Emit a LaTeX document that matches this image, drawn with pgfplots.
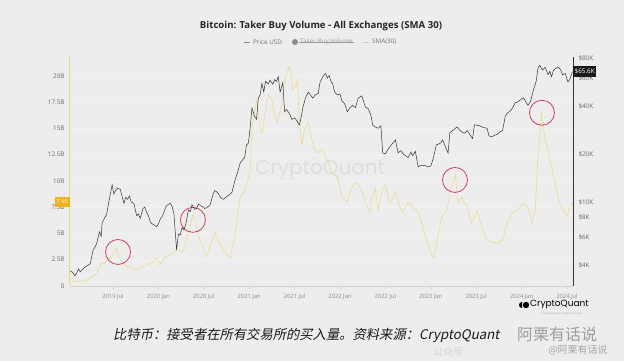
\documentclass[border=0pt]{standalone}
\usepackage{fontspec}
\usepackage{pgfplots}
\pgfplotsset{compat=1.18}
\setmainfont{Open Sans}
\newfontfamily\cjk[FakeSlant=0.2]{Noto Sans CJK SC}
\newfontfamily\cjkplain{Noto Sans CJK SC}
\newfontfamily\poppins{Poppins}
\definecolor{bg}{HTML}{EDEDED}
\definecolor{smay}{HTML}{EADB93}
\definecolor{smaaxis}{HTML}{E8D680}
\definecolor{pricec}{HTML}{333333}
\definecolor{circ}{HTML}{D2405A}
\definecolor{amber}{HTML}{EDB21C}
\definecolor{ticktext}{HTML}{6A6A6A}

\pgfplotstableread{
x y
2019.03 0.7
2019.06 0.5
2019.09 0.4
2019.13 0.45
2019.17 0.5
2019.21 0.6
2019.25 0.75
2019.29 1.0
2019.32 1.2
2019.35 1.7
2019.37 2.2
2019.40 2.1
2019.44 2.5
2019.47 2.7
2019.50 3.1
2019.52 3.3
2019.54 3.6
2019.56 3.0
2019.58 2.5
2019.61 2.3
2019.63 2.0
2019.67 1.8
2019.70 1.7
2019.73 1.6
2019.76 1.5
2019.80 1.7
2019.83 1.8
2019.87 2.0
2019.91 2.1
2019.93 2.2
2019.97 2.6
2019.99 2.7
2020.01 2.0
2020.04 2.3
2020.07 2.7
2020.11 2.9
2020.14 3.0
2020.17 3.2
2020.20 3.4
2020.23 3.4
2020.26 3.2
2020.29 3.6
2020.31 4.5
2020.34 5.2
2020.36 6.0
2020.38 6.8
2020.40 6.4
2020.41 6.1
2020.43 5.0
2020.47 4.2
2020.51 3.2
2020.53 2.8
2020.56 3.6
2020.60 4.6
2020.63 5.1
2020.67 4.1
2020.71 3.6
2020.75 3.0
2020.79 2.7
2020.84 4.7
2020.87 6.5
2020.90 8.5
2020.95 9.1
2020.98 10.0
2021.01 11.0
2021.03 15.0
2021.05 16.1
2021.08 17.7
2021.12 15.1
2021.14 14.6
2021.17 16.1
2021.21 18.2
2021.25 17.7
2021.28 16.1
2021.31 15.6
2021.36 17.4
2021.39 19.6
2021.44 20.9
2021.46 20.3
2021.48 18.7
2021.51 19.0
2021.53 19.6
2021.55 16.1
2021.58 13.4
2021.61 14.9
2021.65 15.6
2021.69 13.9
2021.72 13.0
2021.76 12.7
2021.81 13.0
2021.86 12.0
2021.91 10.8
2021.97 10.4
2022.02 8.5
2022.08 8.0
2022.13 9.4
2022.19 9.9
2022.24 9.1
2022.28 7.9
2022.33 7.0
2022.35 8.4
2022.39 9.3
2022.42 7.2
2022.47 9.3
2022.50 9.6
2022.55 7.9
2022.61 8.9
2022.66 7.5
2022.69 7.0
2022.75 8.0
2022.80 7.5
2022.86 7.0
2022.90 6.0
2022.96 4.1
2023.01 3.0
2023.03 2.7
2023.08 4.7
2023.12 6.6
2023.18 7.2
2023.21 8.9
2023.27 10.6
2023.30 7.9
2023.34 8.5
2023.40 7.5
2023.45 6.0
2023.51 7.2
2023.56 5.6
2023.62 4.4
2023.67 4.2
2023.74 4.1
2023.79 4.4
2023.84 6.0
2023.90 7.0
2023.96 7.2
2024.01 7.9
2024.07 7.5
2024.11 6.0
2024.15 7.2
2024.18 12.3
2024.22 16.5
2024.26 13.9
2024.29 13.0
2024.33 11.3
2024.39 9.1
2024.42 7.9
2024.46 7.2
2024.50 6.6
2024.53 7.5
2024.566 8.0
}\smatable

\pgfplotstableread{
x y
2019.03 3700
2019.05 3640
2019.08 3450
2019.10 3600
2019.12 3800
2019.14 3650
2019.16 3750
2019.19 3900
2019.22 4000
2019.25 4100
2019.28 5000
2019.30 5200
2019.32 5500
2019.35 6500
2019.37 6100
2019.38 7400
2019.41 8000
2019.43 8400
2019.46 10500
2019.49 12800
2019.51 11200
2019.52 11600
2019.55 12200
2019.58 12000
2019.60 10800
2019.62 9800
2019.64 10700
2019.66 10400
2019.68 10900
2019.70 10000
2019.73 9800
2019.76 8200
2019.78 8400
2019.80 7900
2019.83 9100
2019.85 9300
2019.87 8600
2019.89 8200
2019.91 7500
2019.93 7300
2019.95 7200
2019.98 7000
2020.00 7300
2020.02 7800
2020.04 8100
2020.06 8600
2020.08 9300
2020.10 9600
2020.13 9800
2020.15 9400
2020.17 8500
2020.20 5000
2020.22 6300
2020.24 6200
2020.26 6900
2020.28 6700
2020.30 7200
2020.33 8900
2020.35 8700
2020.37 9600
2020.40 9000
2020.42 9100
2020.44 9700
2020.46 9500
2020.49 9300
2020.51 9100
2020.53 9200
2020.57 9600
2020.60 11100
2020.62 11800
2020.64 11600
2020.66 11300
2020.68 10700
2020.70 10500
2020.72 10400
2020.75 10800
2020.77 11000
2020.81 11500
2020.84 13500
2020.87 15200
2020.90 17500
2020.92 18200
2020.95 19000
2020.97 22800
2020.99 23400
2021.01 29000
2021.03 38900
2021.06 34400
2021.08 33000
2021.10 44800
2021.12 47000
2021.14 55400
2021.16 49000
2021.18 57100
2021.21 55000
2021.23 58000
2021.26 54900
2021.28 58500
2021.30 57100
2021.32 61000
2021.34 48800
2021.37 56000
2021.39 36800
2021.41 38000
2021.44 36000
2021.47 33000
2021.50 33700
2021.53 32000
2021.55 30300
2021.57 33500
2021.59 38900
2021.62 45000
2021.65 48800
2021.68 46500
2021.70 44800
2021.73 47000
2021.76 48000
2021.78 56300
2021.81 61000
2021.84 64000
2021.86 60000
2021.88 62000
2021.90 57000
2021.92 55000
2021.94 49000
2021.97 46900
2022.00 47500
2022.02 43000
2022.05 41500
2022.08 36800
2022.11 39000
2022.14 40400
2022.17 39000
2022.20 44800
2022.24 46300
2022.27 41000
2022.28 39400
2022.31 38500
2022.34 35000
2022.36 30300
2022.39 29500
2022.42 29000
2022.45 30000
2022.47 20300
2022.50 20000
2022.53 21500
2022.57 23000
2022.61 24500
2022.64 20300
2022.67 21000
2022.70 19900
2022.73 19400
2022.75 19000
2022.78 20500
2022.80 19500
2022.83 20800
2022.86 16600
2022.88 16900
2022.91 17000
2022.94 16900
2022.97 16600
2023.00 16800
2023.03 19000
2023.06 22800
2023.08 23000
2023.11 23500
2023.13 24500
2023.16 22200
2023.19 20300
2023.21 27200
2023.24 28000
2023.29 29600
2023.31 28500
2023.34 27500
2023.37 27000
2023.40 28000
2023.43 26500
2023.46 25000
2023.48 30500
2023.51 30300
2023.54 30000
2023.56 29600
2023.59 29200
2023.62 29000
2023.64 26000
2023.67 25600
2023.70 26200
2023.73 26500
2023.76 27500
2023.79 28000
2023.82 34500
2023.84 36000
2023.87 37000
2023.90 38900
2023.93 42000
2023.95 42200
2023.98 43500
2024.02 45000
2024.04 43000
2024.07 40400
2024.10 43000
2024.13 50400
2024.16 57000
2024.18 69000
2024.20 72000
2024.23 67200
2024.26 70000
2024.29 63000
2024.31 66000
2024.33 61000
2024.35 67000
2024.38 69000
2024.40 70400
2024.43 67500
2024.45 62800
2024.48 64000
2024.51 56700
2024.53 58500
2024.56 65600
}\pricetable

\begin{document}
\begin{tikzpicture}[x=1pt,y=1pt]
\fill[bg] (0,0) rectangle (624,361);
% centre watermark
\node[text=black!13] at (320,191) {\poppins\fontsize{20}{22}\selectfont CryptoQuant};

\begin{axis}[
  at={(70pt,75pt)}, anchor=south west, scale only axis,
  width=503pt, height=229pt,
  xmin=2019.026, xmax=2024.566, ymin=0, ymax=21.81,
  axis x line*=bottom, axis y line*=left,
  x axis line style={-, draw=black!18, line width=0.5pt},
  y axis line style={-, draw=smaaxis, line width=1pt},
  xtick={2019.5,2020,2020.5,2021,2021.5,2022,2022.5,2023,2023.5,2024,2024.5},
  xticklabels={2019 Jul,2020 Jan,2020 Jul,2021 Jan,2021 Jul,2022 Jan,2022 Jul,2023 Jan,2023 Jul,2024 Jan,2024 Jul},
  ytick={0,2.5,5,7.5,10,12.5,15,17.5,20},
  yticklabels={0,2.5B,5B,7.5B,10B,12.5B,15B,17.5B,20B},
  xtick style={draw=black!18, line width=0.4pt},
  major tick length=3pt, tick align=outside,
  ytick style={draw=none},
  ymajorgrids, grid style={draw=black!5, line width=0.4pt},
  xticklabel style={font=\fontsize{5.8}{6}\selectfont, text=black!45, yshift=-2pt},
  yticklabel style={font=\fontsize{6.3}{7}\selectfont, text=ticktext, xshift=1pt},
  clip=false,
]
\addplot[smay, line width=0.6pt] table[x=x,y=y] {\smatable};
\addplot[only marks, mark=o, mark size=12.5pt, circ, mark options={line width=0.8pt}] coordinates {
  (2019.555,3.24) (2020.38,6.3) (2023.266,10.1) (2024.224,16.5)};
\node[fill=amber, text=white!90!amber, anchor=east, inner sep=1.5pt, minimum height=10pt, minimum width=15pt,
  font=\fontsize{5.5}{6}\selectfont] at (axis cs:2019.026,8.0) {7.9B};
\end{axis}

\begin{axis}[
  at={(70pt,75pt)}, anchor=south west, scale only axis,
  width=503pt, height=229pt,
  xmin=2019.026, xmax=2024.566, ymode=log, ymin=2973, ymax=81160,
  axis x line=none, axis y line*=right,
  y axis line style={-, draw=black!80, line width=0.7pt},
  xtick=\empty,
  ytick={4000,6000,8000,10000,20000,40000,60000,80000},
  yticklabels={\$4K,\$6K,\$8K,\$10K,\$20K,\$40K,\$60K,\$80K},
  ytick style={draw=none}, yminorticks=false,
  yticklabel style={font=\fontsize{6.3}{7}\selectfont, text=ticktext, xshift=2pt},
  clip=false,
]
\addplot[pricec, line width=0.5pt] table[x=x,y=y] {\pricetable};
\node[fill=black!90, text=white, anchor=west, inner sep=1.5pt, minimum height=11pt,
  font=\fontsize{6.3}{7}\selectfont] at (axis cs:2024.566,65600) {\$65.6K};
\end{axis}

% title and legend
\node[text=black!85] at (321,335) {\bfseries\fontsize{9.6}{11}\selectfont Bitcoin: Taker Buy Volume - All Exchanges (SMA 30)};
\begin{scope}[font=\fontsize{6.3}{7}\selectfont]
\draw[black!45, line width=0.6pt] (244,319) -- (250,319);
\node[anchor=west, text=black!55, inner sep=1pt] at (252,319) {Price USD};
\fill[black!45] (295,319) circle (3);
\node[anchor=west, text=black!40, inner sep=1pt] (tbv) at (299,319) {Taker Buy Volume};
\draw[black!40, line width=0.4pt] (tbv.west) -- (tbv.east);
\draw[black!20, line width=0.6pt] (363,319) -- (369,319);
\node[anchor=west, text=black!55, inner sep=1pt] at (371,319) {SMA(30)};
\end{scope}

% logo
\fill[black] (522,56) ++(0,3) arc (90:270:3) -- cycle;
\fill[black] (526,56) circle (3.2);
\node[anchor=west, inner sep=0pt] at (530,56.5) {\poppins\fontsize{9}{10}\selectfont CryptoQuant};
\node[text=black!35] at (562,47) {\fontsize{2.6}{3}\selectfont \textcopyright\ CryptoQuant All rights reserved};

% caption and watermark
\node[text=black!16] at (448,9) {\cjkplain\fontsize{10}{11}\selectfont 公众号};
\node[anchor=west, inner sep=0pt, text=black!90] at (113,26) {\cjk\fontsize{13.3}{14}\selectfont 比特币：接受者在所有交易所的买入量。资料来源：CryptoQuant};
\node[text=black!38] at (557,27) {\cjkplain\fontsize{16}{17}\selectfont 阿栗有话说};
\node[text=black!35] at (578,11) {\cjkplain\fontsize{10}{11}\selectfont @阿栗有话说};
\end{tikzpicture}
\end{document}
